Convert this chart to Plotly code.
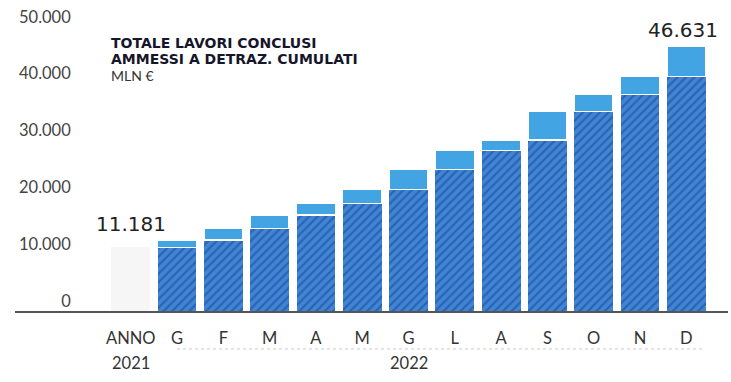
import plotly.graph_objects as go

# Cumulative works admitted to deduction, million euro
categories = ["ANNO", "G", "F", "M", "A", "M", "G", "L", "A", "S", "O", "N", "D"]
year_labels = ["2021", "2022"]
total_2021 = 11181
cumulative_2022 = [12494, 14552, 16893, 18951, 21415, 24934, 28207,
                   30090, 35070, 38131, 41229, 46631]
y_ticks = [0, 10000, 20000, 30000, 40000, 50000]
y_tick_text = ["0", "10.000", "20.000", "30.000", "40.000", "50.000"]

def fmt(v):
    return f"{v:,}".replace(",", ".")

# each month: previous cumulative (hatched) + new works in the month (light)
previous = [total_2021] + cumulative_2022[:-1]
increment = [c - p for c, p in zip(cumulative_2022, previous)]
month_x = list(range(1, len(categories)))

FONT = "Lato"
VALUE_FONT = dict(family="DejaVu Sans", size=20, color="#222")
fig = go.Figure()

fig.add_trace(go.Bar(
    x=[0], y=[total_2021],
    marker=dict(color="#f6f6f6", line=dict(width=0)),
    hoverinfo="skip",
))
fig.add_trace(go.Bar(
    x=month_x, y=previous,
    marker=dict(
        color="#3f86d6",
        line=dict(width=0),
        pattern=dict(shape="/", fgcolor="#1d3f8e", bgcolor="#3f86d6",
                     size=6, solidity=0.38),
    ),
    hoverinfo="skip",
))
fig.add_trace(go.Bar(
    x=month_x, y=increment,
    marker=dict(color="#43a4e4", line=dict(color="white", width=1.4)),
    hoverinfo="skip",
))

# value labels above the first and last bars
fig.add_annotation(x=0, y=total_2021, text=fmt(total_2021), showarrow=False,
                   yanchor="middle", yshift=23, font=VALUE_FONT)
fig.add_annotation(x=month_x[-1], y=cumulative_2022[-1],
                   text=fmt(cumulative_2022[-1]), showarrow=False,
                   yanchor="middle", yshift=16, xshift=-3, font=VALUE_FONT)

fig.update_layout(
    width=731, height=382,
    margin=dict(l=15, r=3, t=10, b=71),
    barmode="stack", bargap=0.16,
    showlegend=False,
    plot_bgcolor="white", paper_bgcolor="white",
    font=dict(family=FONT, color="#333"),
)
fig.update_xaxes(
    range=[-2.5, 12.9],
    tickvals=list(range(len(categories))), ticktext=categories,
    tickfont=dict(family=FONT, size=16.5, color="#333"),
    ticks="", showgrid=False, zeroline=False,
    showline=True, linecolor="#555", linewidth=1.5,
    ticklabelstandoff=11,
)
fig.update_yaxes(
    range=[0, 52970],
    anchor="free", position=0.081, side="left",
    tickvals=y_ticks, ticktext=y_tick_text,
    tickfont=dict(family=FONT, size=16.5, color="#444"),
    ticks="", showgrid=False, zeroline=False, showline=False,
    ticklabelshift=-10, ticklabelstandoff=2,
)

# chart heading
heading_font = dict(family="DejaVu Sans", size=14, color="#16162a", weight=700)
fig.add_annotation(x=0.1318, y=0.890, xref="paper", yref="paper",
                   xanchor="left", yanchor="middle", showarrow=False,
                   text="<b>TOTALE LAVORI CONCLUSI</b>", font=heading_font)
fig.add_annotation(x=0.1318, y=0.837, xref="paper", yref="paper",
                   xanchor="left", yanchor="middle", showarrow=False,
                   text="<b>AMMESSI A DETRAZ. CUMULATI</b>", font=heading_font)
fig.add_annotation(x=0.1318, y=0.783, xref="paper", yref="paper",
                   xanchor="left", yanchor="middle", showarrow=False,
                   text="MLN €", font=dict(family=FONT, size=14, color="#333"))

# year grouping under the month labels
fig.add_annotation(x=0, y=-0.173, xref="x", yref="paper", showarrow=False,
                   yanchor="middle", text=year_labels[0],
                   font=dict(family=FONT, size=16.5, color="#333"))
fig.add_annotation(x=6, y=-0.173, xref="x", yref="paper", showarrow=False,
                   yanchor="middle", text=year_labels[1],
                   font=dict(family=FONT, size=16.5, color="#333"))
fig.add_shape(type="line", xref="x", yref="paper", x0=1.0, x1=12.35,
              y0=-0.126, y1=-0.126,
              line=dict(color="#c8c8c8", width=1, dash="dot"))

fig.write_html("out.html")
